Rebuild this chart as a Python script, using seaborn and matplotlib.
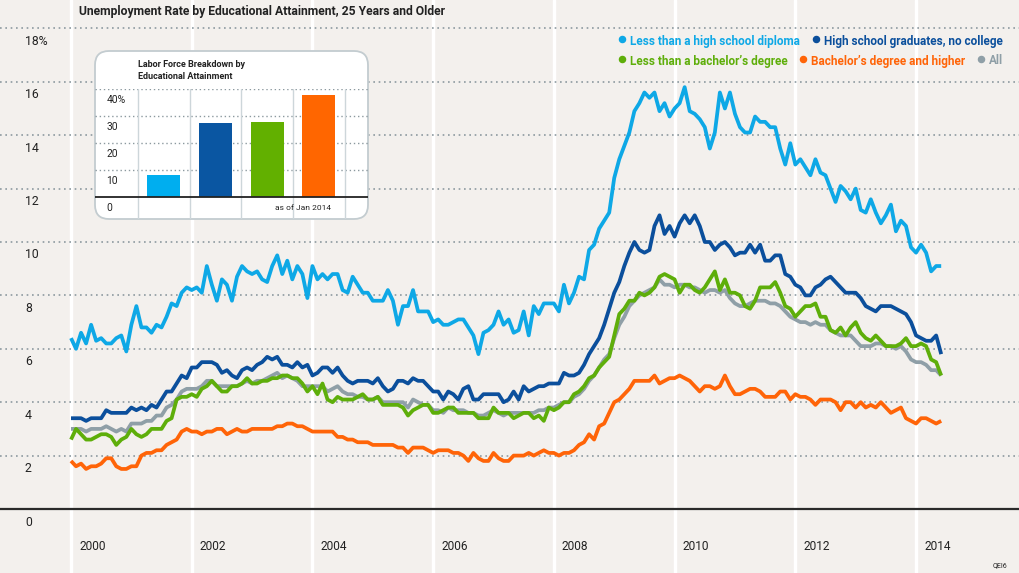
import numpy as np
import pandas as pd
import matplotlib
matplotlib.use("Agg")
import matplotlib.pyplot as plt
import seaborn as sns
from matplotlib import font_manager as fm, transforms as mtrans, patches as mpatches
from matplotlib.lines import Line2D

# ---------------- data (monthly, Jan 2000 - Jun 2014) ----------------
start_year = 2000
less_hs = [6.4, 6.0, 6.6, 6.2, 6.9, 6.3, 6.4, 6.2, 6.2, 6.4, 6.5, 5.9,
           6.9, 7.6, 6.8, 6.8, 6.6, 6.9, 6.8, 7.2, 7.7, 7.6, 8.1, 8.3,
           8.2, 8.3, 8.1, 9.1, 8.4, 7.8, 8.6, 8.4, 7.8, 8.7, 9.1, 8.9,
           8.8, 8.9, 8.6, 8.5, 9.1, 9.5, 8.8, 9.3, 8.6, 9.1, 8.8, 7.9,
           9.1, 8.6, 8.8, 8.6, 8.8, 8.8, 8.2, 8.1, 8.7, 8.4, 8.1, 8.1,
           7.8, 7.8, 7.8, 8.2, 7.8, 6.9, 7.6, 7.6, 8.2, 7.4, 7.4, 7.4,
           7.0, 7.1, 6.9, 6.9, 7.0, 7.1, 7.1, 6.8, 6.5, 5.8, 6.6, 6.7,
           6.9, 7.4, 6.9, 7.1, 6.6, 6.7, 7.4, 6.5, 7.6, 7.3, 7.7, 7.7,
           7.7, 7.4, 8.4, 7.7, 8.1, 8.7, 8.6, 9.7, 9.9, 10.5, 10.8, 11.1,
           12.4, 13.1, 13.6, 14.1, 14.9, 15.2, 15.6, 15.4, 15.6, 14.9, 15.2, 14.7,
           15.0, 15.2, 15.8, 14.9, 14.8, 14.6, 14.3, 13.5, 14.1, 15.6, 15.0, 15.6,
           14.8, 14.3, 14.1, 14.1, 14.7, 14.5, 14.5, 14.3, 14.3, 13.5, 12.9, 13.7,
           12.9, 13.1, 12.8, 12.5, 13.1, 12.6, 12.5, 12.0, 11.5, 12.1, 11.9, 11.6,
           12.0, 11.2, 11.1, 11.6, 11.1, 10.7, 11.0, 11.4, 10.4, 10.8, 10.6, 9.8,
           9.6, 9.9, 9.6, 8.9, 9.1, 9.1]
hs_grad = [3.4, 3.4, 3.4, 3.3, 3.4, 3.4, 3.4, 3.7, 3.6, 3.6, 3.6, 3.6,
           3.8, 3.7, 3.8, 3.7, 3.9, 3.8, 4.1, 4.4, 4.4, 4.7, 5.0, 4.9,
           5.3, 5.3, 5.5, 5.5, 5.5, 5.4, 5.1, 5.2, 5.0, 4.9, 5.2, 5.3,
           5.2, 5.4, 5.5, 5.7, 5.6, 5.7, 5.4, 5.4, 5.3, 5.5, 5.3, 5.4,
           5.0, 5.1, 5.3, 5.3, 5.1, 5.3, 5.0, 4.8, 4.7, 4.8, 4.8, 4.8,
           4.7, 4.9, 4.6, 4.4, 4.5, 4.8, 4.8, 4.7, 4.9, 4.8, 4.8, 4.6,
           4.4, 4.4, 4.1, 4.4, 4.3, 4.1, 4.5, 4.6, 4.1, 4.1, 4.3, 4.3,
           4.3, 4.3, 4.0, 4.1, 4.4, 4.1, 4.6, 4.4, 4.5, 4.6, 4.6, 4.7,
           4.7, 4.7, 5.1, 5.0, 5.0, 5.1, 5.4, 5.8, 6.1, 6.4, 6.9, 7.5,
           8.1, 8.5, 9.1, 9.6, 10.0, 9.7, 9.6, 9.7, 10.6, 11.0, 10.3, 10.6,
           10.2, 10.7, 11.0, 10.7, 11.0, 10.6, 10.0, 10.0, 9.7, 9.9, 10.0, 9.8,
           9.5, 9.6, 9.6, 9.9, 9.6, 9.9, 9.3, 9.3, 9.5, 9.5, 8.8, 8.7,
           8.4, 8.3, 8.0, 8.0, 8.3, 8.4, 8.6, 8.7, 8.5, 8.3, 8.1, 8.1,
           8.1, 7.9, 7.6, 7.5, 7.4, 7.6, 7.6, 7.6, 7.5, 7.4, 7.3, 7.0,
           6.5, 6.4, 6.3, 6.3, 6.5, 5.8]
less_ba = [2.6, 3.0, 2.8, 2.6, 2.6, 2.7, 2.8, 2.8, 2.7, 2.4, 2.6, 2.7,
           3.0, 2.8, 2.7, 2.8, 3.0, 3.0, 3.0, 3.3, 3.4, 4.1, 4.2, 4.2,
           4.3, 4.2, 4.5, 4.6, 4.8, 4.6, 4.4, 4.4, 4.6, 4.6, 4.7, 4.9,
           4.7, 4.7, 4.8, 4.8, 4.9, 4.9, 5.0, 5.0, 4.9, 4.9, 4.7, 4.4,
           4.6, 4.3, 4.7, 4.1, 4.0, 4.2, 4.1, 4.1, 4.1, 4.2, 4.3, 4.1,
           4.1, 4.2, 3.9, 3.9, 3.9, 3.9, 3.8, 3.5, 3.7, 3.8, 3.9, 3.9,
           3.6, 3.6, 3.7, 3.8, 3.8, 3.6, 3.6, 3.6, 3.6, 3.4, 3.4, 3.4,
           3.8, 3.6, 3.6, 3.6, 3.4, 3.5, 3.6, 3.6, 3.4, 3.5, 3.3, 3.8,
           3.7, 3.8, 4.0, 4.0, 4.3, 4.4, 4.6, 4.9, 5.0, 5.3, 5.5, 5.7,
           6.5, 7.3, 7.5, 7.8, 7.8, 8.1, 8.0, 8.1, 8.3, 8.7, 8.8, 8.7,
           8.6, 8.1, 8.4, 8.4, 8.2, 8.1, 8.3, 8.6, 8.9, 8.2, 8.6, 8.1,
           8.1, 8.0, 7.6, 7.5, 7.8, 8.3, 8.3, 8.3, 8.5, 8.1, 7.6, 7.5,
           7.2, 7.4, 7.6, 7.6, 7.7, 7.2, 7.2, 6.7, 6.6, 6.8, 6.5, 6.8,
           7.0, 6.6, 6.4, 6.3, 6.5, 6.3, 6.1, 6.1, 6.1, 6.2, 6.4, 6.1,
           6.1, 6.2, 6.1, 5.6, 5.5, 5.0]
ba_higher = [1.8, 1.6, 1.7, 1.5, 1.6, 1.6, 1.7, 1.9, 1.9, 1.6, 1.5, 1.5,
             1.6, 1.6, 2.0, 2.1, 2.1, 2.2, 2.2, 2.4, 2.5, 2.6, 2.9, 3.0,
             2.9, 2.9, 2.8, 2.9, 2.9, 3.0, 3.0, 2.8, 2.9, 3.0, 2.9, 2.9,
             3.0, 3.0, 3.0, 3.0, 3.0, 3.1, 3.1, 3.2, 3.2, 3.1, 3.1, 3.0,
             2.9, 2.9, 2.9, 2.9, 2.9, 2.7, 2.7, 2.6, 2.6, 2.5, 2.5, 2.5,
             2.4, 2.4, 2.4, 2.4, 2.4, 2.3, 2.3, 2.1, 2.3, 2.3, 2.3, 2.2,
             2.1, 2.2, 2.2, 2.2, 2.1, 2.1, 2.0, 1.8, 2.1, 1.9, 1.8, 1.8,
             2.1, 1.9, 1.8, 1.8, 2.0, 2.0, 2.0, 2.1, 2.0, 2.1, 2.2, 2.1,
             2.1, 2.0, 2.1, 2.1, 2.2, 2.4, 2.5, 2.8, 2.6, 3.1, 3.2, 3.6,
             4.0, 4.1, 4.3, 4.5, 4.8, 4.8, 4.8, 4.8, 5.0, 4.7, 4.8, 4.9,
             4.9, 5.0, 4.9, 4.8, 4.6, 4.4, 4.6, 4.6, 4.5, 4.6, 5.0, 4.6,
             4.3, 4.3, 4.4, 4.5, 4.5, 4.4, 4.2, 4.2, 4.2, 4.4, 4.4, 4.1,
             4.3, 4.2, 4.2, 4.1, 3.9, 4.1, 4.1, 4.1, 4.0, 3.7, 4.0, 4.0,
             3.8, 4.0, 3.8, 3.9, 3.8, 4.0, 3.8, 3.6, 3.7, 3.8, 3.4, 3.3,
             3.2, 3.4, 3.4, 3.3, 3.2, 3.3]
all_25 = [3.0, 3.0, 3.0, 2.9, 3.0, 3.0, 3.0, 3.1, 3.0, 2.9, 3.0, 2.9,
          3.2, 3.2, 3.2, 3.3, 3.3, 3.5, 3.5, 3.8, 3.9, 4.1, 4.4, 4.5,
          4.5, 4.5, 4.6, 4.8, 4.8, 4.6, 4.6, 4.6, 4.6, 4.6, 4.7, 4.8,
          4.7, 4.8, 4.8, 4.9, 5.0, 5.1, 4.9, 5.0, 4.9, 4.8, 4.6, 4.6,
          4.6, 4.6, 4.6, 4.4, 4.5, 4.6, 4.4, 4.3, 4.3, 4.2, 4.2, 4.1,
          4.1, 4.2, 4.0, 4.0, 4.0, 4.0, 4.0, 3.8, 4.1, 4.0, 3.9, 3.9,
          3.7, 3.7, 3.6, 3.8, 3.7, 3.7, 3.7, 3.6, 3.6, 3.5, 3.5, 3.6,
          3.7, 3.6, 3.5, 3.6, 3.6, 3.6, 3.6, 3.6, 3.6, 3.7, 3.7, 3.8,
          3.8, 3.9, 4.0, 4.0, 4.2, 4.3, 4.5, 4.8, 5.0, 5.3, 5.6, 5.8,
          6.4, 6.9, 7.2, 7.6, 7.8, 8.0, 8.1, 8.2, 8.3, 8.6, 8.4, 8.4,
          8.3, 8.4, 8.4, 8.3, 8.3, 8.2, 8.1, 8.2, 8.2, 8.1, 8.2, 7.9,
          7.7, 7.6, 7.6, 7.7, 7.8, 7.8, 7.8, 7.7, 7.7, 7.6, 7.4, 7.2,
          7.1, 7.0, 7.0, 6.9, 7.0, 6.9, 6.9, 6.7, 6.6, 6.5, 6.5, 6.5,
          6.3, 6.1, 6.1, 6.1, 6.2, 6.2, 6.1, 6.1, 6.0, 6.1, 5.9, 5.6,
          5.5, 5.5, 5.4, 5.2, 5.2, 5.0]

series_labels = ["Less than a high school diploma", "High school graduates, no college",
                 "Less than a bachelor\u2019s degree", "Bachelor\u2019s degree and higher", "All"]
series_values = [less_hs, hs_grad, less_ba, ba_higher, all_25]
series_colors = ["#0EA8E6", "#0B4F9C", "#5EAE0A", "#FF6408", "#8F9FA7"]

bar_categories = ["Less than HS", "HS graduates", "Less than bachelor's", "Bachelor's+"]
bar_shares = [8.1, 27.2, 27.9, 37.6]
bar_colors = ["#00AEEF", "#0A56A2", "#62B000", "#FF6600"]

y_ticks = [0, 2, 4, 6, 8, 10, 12, 14, 16, 18]
y_tick_labels = ["0", "2", "4", "6", "8", "10", "12", "14", "16", "18%"]
year_ticks = [2000, 2002, 2004, 2006, 2008, 2010, 2012, 2014]
inset_ticks = [10, 20, 30, 40]
inset_tick_labels = ["10", "20", "30", "40%"]

# ---------------- style ----------------
sns.set_style("white")
names = {f.name for f in fm.fontManager.ttflist}
if "Liberation Sans Narrow" in names:
    FAM = ["Liberation Sans Narrow", "DejaVu Sans"]
    K = 1.16
else:
    FAM = ["Roboto", "DejaVu Sans"]
    K = 1.0
plt.rcParams["font.family"] = FAM

BG = "#F3F0ED"
GRID = "#8C999F"
TXT = "#222222"
W, H = 1020, 573
X0, PXY = 71.0, 60.36     # pixel of Jan 2000, pixels per year
Y0, PPU = 509.0, 26.7     # pixel of 0 %, pixels per percentage point


def dx(px):
    return start_year + (px - X0) / PXY


def dy(py):
    return (Y0 - py) / PPU


fig = plt.figure(figsize=(W / 100, H / 100), dpi=100, facecolor=BG)
ax = fig.add_axes([0, 0, 1, 1])
ax.set_facecolor(BG)

# long-form frame
frames = []
for lab, vals in zip(series_labels, series_values):
    n = len(vals)
    frames.append(pd.DataFrame({"year": start_year + np.arange(n) / 12.0,
                                "rate": vals, "series": lab}))
df = pd.concat(frames, ignore_index=True)
palette = dict(zip(series_labels, series_colors))
hue_order = ["All", series_labels[3], series_labels[2], series_labels[1], series_labels[0]]

# grid / frame
for v in y_ticks[1:]:
    ax.axhline(v, color=GRID, lw=1.2, ls=(0, (1, 2.2)), zorder=1)
for yr in year_ticks:
    ax.axvline(yr, color="white", lw=2.4, zorder=0.5)
ax.axhline(0, color="#2a2a2a", lw=1.6, zorder=3)

sns.lineplot(data=df, x="year", y="rate", hue="series", hue_order=hue_order,
             palette=palette, linewidth=2.7, estimator=None, legend=False, ax=ax,
             zorder=4, solid_joinstyle="round", solid_capstyle="butt")

ax.set_xlim(dx(0), dx(W))
ax.set_ylim(dy(H), dy(0))
ax.set_xticks([])
ax.set_yticks([])
ax.set_xlabel("")
ax.set_ylabel("")
for s in ax.spines.values():
    s.set_visible(False)

# y labels (below each grid line)
for v, lab in zip(y_ticks, y_tick_labels):
    ax.text(dx(25), v - 13.0 / PPU, lab, ha="left", va="center",
            fontsize=8.8 * K, color=TXT, zorder=5)
# year labels
for yr in year_ticks:
    ax.text(yr + 8.0 / PXY, dy(547), str(yr), ha="left", va="center",
            fontsize=8.6 * K, color=TXT, zorder=5)

# title
fig.text(79 / W, 1 - 11 / H, "Unemployment Rate by Educational Attainment, 25 Years and Older",
         ha="left", va="center", fontsize=8.7 * K, fontweight="bold", color=TXT)
fig.text(1000 / W, 1 - 566 / H, "QEI6", ha="center", va="center", fontsize=5.0, color=TXT)

# legend
legend_items = [(series_labels[0], 630, 41), (series_labels[1], 824, 41),
                (series_labels[2], 630, 61), (series_labels[3], 811, 61),
                (series_labels[4], 989, 61)]
for lab, px, py in legend_items:
    col = palette[lab]
    fig.text(px / W, 1 - py / H, lab, ha="left", va="center", fontsize=8.5 * K,
             fontweight="bold", color=col)
    fig.add_artist(Line2D([(px - 8) / W], [1 - (py - 2) / H], marker="o", ms=4.4,
                          color=col, transform=fig.transFigure, lw=0))

# ---------------- inset ----------------
box = mpatches.FancyBboxPatch((95, H - 219), 273, 168,
                              boxstyle="round,pad=0,rounding_size=14",
                              transform=mtrans.IdentityTransform(),
                              facecolor="white", edgecolor="#C3CCD0", lw=1.3, zorder=5)
fig.add_artist(box)

iax = fig.add_axes([95 / W, (H - 219) / H, 273 / W, 130 / H], zorder=6)
iax.set_facecolor("none")
bdf = pd.DataFrame({"cat": bar_categories, "share": bar_shares})
sns.barplot(data=bdf, x="cat", y="share", hue="cat", palette=dict(zip(bar_categories, bar_colors)),
            saturation=1, width=0.64, legend=False, ax=iax, zorder=3, edgecolor="none")
IX0, IX1, IY0, IY1 = -1.33, 3.95, -8.3, 40.0
for v in inset_ticks:
    iax.axhline(v, color=GRID, lw=1.0, ls=(0, (1, 2)), zorder=1)
for xv in [-0.5, 0.5, 1.5, 2.5, 3.5]:
    iax.axvline(xv, color="#CDD6DA", lw=1.0, zorder=1)
iax.axhline(0, color="#222222", lw=1.3, zorder=4)
iax.set_xlim(IX0, IX1)
iax.set_ylim(IY0, IY1)
iax.set_xticks([])
iax.set_yticks([])
iax.set_xlabel("")
iax.set_ylabel("")
for s in iax.spines.values():
    s.set_visible(False)
IPX = 273 / (IX1 - IX0)
IPY = 130 / (IY1 - IY0)
for v, lab in zip([0] + inset_ticks, ["0"] + inset_tick_labels):
    iax.text(IX0 + 11.5 / IPX, v - 11.3 / IPY, lab, ha="left", va="center",
             fontsize=7.4 * K, color=TXT, clip_on=False)
iax.text(IX0 + (275 - 95) / IPX, -11.3 / IPY, "as of Jan 2014", ha="left", va="center",
         fontsize=6.0 * K, color=TXT, clip_on=False)
iax.text(-0.5, IY1 + (89 - 64) / IPY, "Labor Force Breakdown by", ha="left", va="center",
         fontsize=6.5 * K, fontweight="bold", color=TXT, clip_on=False)
iax.text(-0.5, IY1 + (89 - 76) / IPY, "Educational Attainment", ha="left", va="center",
         fontsize=6.5 * K, fontweight="bold", color=TXT, clip_on=False)

fig.savefig("out.png", dpi=100, facecolor=BG)
